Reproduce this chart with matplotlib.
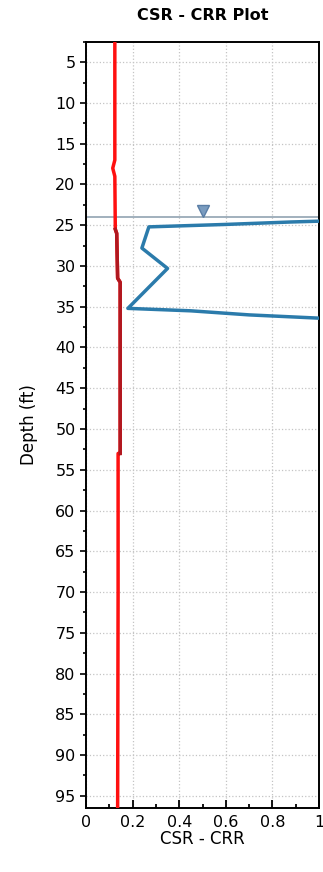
import numpy as np
import matplotlib
matplotlib.use("Agg")
import matplotlib.pyplot as plt
from matplotlib.ticker import MultipleLocator

# CSR curve (red)
csr_depth = [2.5, 17.0, 18.0, 19.0, 25.5, 26.0, 31.5, 32.0, 53.0, 53.0, 70.0, 96.5]
csr_value = [0.124, 0.124, 0.115, 0.124, 0.126, 0.132, 0.136, 0.147, 0.147, 0.138, 0.138, 0.136]

# darker overlay segment
dark_depth = [25.5, 26.0, 31.5, 32.0, 53.0]
dark_value = [0.126, 0.132, 0.136, 0.147, 0.147]

# CRR curve (blue)
crr_depth = [24.5, 24.6, 24.9, 25.2, 27.8, 30.3, 35.2, 35.5, 36.0, 36.4]
crr_value = [1.0, 0.88, 0.6, 0.27, 0.24, 0.35, 0.18, 0.45, 0.7, 1.0]

water_depth = 24.0
marker_x = 0.5
marker_depth = 23.2

fig = plt.figure(figsize=(3.23, 8.72), dpi=100)
ax = fig.add_axes([0.266, 0.0734, 0.722, 0.8786])

ax.axhline(water_depth, color="#9aaab8", lw=1.3, zorder=2)
ax.plot([marker_x], [marker_depth], marker="v", ms=9, color="#7a9cc0",
        markeredgecolor="#5a7ea6", zorder=4)
ax.plot(crr_value, crr_depth, color="#2b7bab", lw=2.5, zorder=3)
ax.plot(csr_value, csr_depth, color="#ff1010", lw=2.5, zorder=3)
ax.plot(dark_value, dark_depth, color="#b01820", lw=2.5, zorder=3)

ax.set_xlim(0, 1)
ax.set_ylim(96.5, 2.5)
ax.xaxis.set_major_locator(MultipleLocator(0.2))
ax.xaxis.set_minor_locator(MultipleLocator(0.1))
ax.yaxis.set_major_locator(MultipleLocator(5))
ax.yaxis.set_minor_locator(MultipleLocator(2.5))
ax.xaxis.set_major_formatter(plt.FuncFormatter(lambda v, p: "%g" % round(v, 1)))

ax.grid(True, which="major", ls=":", color="#c4c4c4", lw=0.9)
ax.tick_params(axis="x", which="both", direction="in", labelsize=11.5, width=1.3, pad=5)
ax.tick_params(axis="x", which="major", length=6)
ax.tick_params(axis="x", which="minor", length=3)
ax.tick_params(axis="y", which="major", direction="out", length=4, labelsize=11.5, width=1.2)
ax.tick_params(axis="y", which="minor", direction="out", length=2, width=1.2)
for s in ax.spines.values():
    s.set_linewidth(1.4)

ax.set_xlabel("CSR - CRR", fontsize=12, labelpad=0)
ax.set_ylabel("Depth (ft)", fontsize=12, labelpad=12)
ax.set_title("CSR - CRR Plot", fontsize=11.5, fontweight="bold", pad=16)

fig.savefig("out.png", dpi=100)
